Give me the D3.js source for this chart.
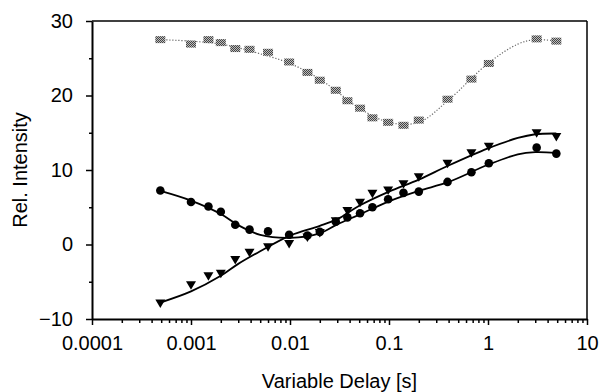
<!DOCTYPE html>
<html>
<head>
<meta charset="utf-8">
<script src="https://cdn.jsdelivr.net/npm/d3@7"></script>
<style>
  html, body { margin: 0; padding: 0; background: #fff; }
  svg text { font-family: "Liberation Sans", Arial, sans-serif; fill: #000; }
</style>
</head>
<body>
<svg id="chart" width="599" height="392"></svg>
<script>
// measured points
const delays = [0.00049, 0.001, 0.0015, 0.002, 0.0028, 0.0039, 0.006, 0.0098, 0.015, 0.02, 0.029, 0.038, 0.051, 0.068, 0.098, 0.14, 0.2, 0.39, 0.68, 1.02, 3.1, 4.9];
const graySquares = [27.5, 26.9, 27.5, 27.1, 26.3, 26.2, 25.8, 24.5, 23.1, 22.05, 20.7, 19.3, 18.3, 17.0, 16.4, 16.0, 16.7, 19.5, 22.2, 24.3, 27.6, 27.3];
const circles = [7.25, 5.7, 5.1, 4.4, 2.65, 2.0, 1.76, 1.3, 1.2, 1.7, 3.06, 3.64, 4.2, 5.0, 6.07, 6.93, 7.1, 8.4, 9.7, 10.9, 13.0, 12.2];
const triangles = [-7.85, -5.4, -4.2, -3.85, -2.0, -1.05, -0.3, 0.14, 1.0, 1.6, 3.2, 4.55, 5.66, 6.88, 7.33, 8.14, 9.1, 10.9, 12.3, 13.2, 15.0, 14.5];
// fitted curves
const fitDelays = [0.00049, 0.001, 0.002, 0.003, 0.005, 0.01, 0.02, 0.03, 0.05, 0.1, 0.2, 0.4, 1, 2, 3, 4.9];
const grayFit = [27.5, 27.3, 26.9, 26.4, 25.6, 24.3, 22.2, 20.5, 18.3, 16.4, 16.4, 19.4, 24.3, 26.9, 27.5, 27.3];
const circleFit = [7.2, 5.9, 4.1, 2.6, 1.3, 0.9, 1.5, 2.7, 4.0, 5.8, 7.2, 8.4, 10.7, 12.1, 12.4, 12.3];
const triangleFit = [-7.8, -6.3, -4.2, -2.6, -0.9, 1.2, 2.5, 3.4, 5.2, 7.1, 8.7, 10.6, 12.9, 14.3, 14.8, 14.9];
const xTickValues = [0.0001, 0.001, 0.01, 0.1, 1, 10];
const xTickLabels = ["0.0001", "0.001", "0.01", "0.1", "1", "10"];
const yTickValues = [-10, 0, 10, 20, 30];
const yMinorValues = [-5, 5, 15, 25];
const xLabel = "Variable Delay [s]";
const yLabel = "Rel. Intensity";

const svg = d3.select("#chart");
const L = 92, R = 587, T = 21, B = 319;
const x = d3.scaleLog().domain([0.0001, 10]).range([L, R]);
const y = d3.scaleLinear().domain([-10, 30]).range([B, T]);

// checker pattern for gray squares
const defs = svg.append("defs");
const pat = defs.append("pattern").attr("id", "chk").attr("width", 2).attr("height", 2).attr("patternUnits", "userSpaceOnUse");
pat.append("rect").attr("width", 2).attr("height", 2).attr("fill", "#bdbdbd");
pat.append("rect").attr("width", 1).attr("height", 1).attr("fill", "#444");
pat.append("rect").attr("x", 1).attr("y", 1).attr("width", 1).attr("height", 1).attr("fill", "#444");

// minor x ticks
const minorX = [];
for (let e = -4; e < 1; e++) for (let m = 2; m <= 9; m++) minorX.push(m * Math.pow(10, e));

const gx = svg.append("g").attr("transform", `translate(0,${B})`);
gx.call(d3.axisBottom(x).tickValues(minorX).tickSize(4).tickFormat(""));
gx.call(g => g.select(".domain").remove());
const gx2 = svg.append("g").attr("transform", `translate(0,${B})`)
  .call(d3.axisBottom(x).tickValues(xTickValues).tickSize(6).tickSizeOuter(0).tickFormat((d, i) => xTickLabels[i]));
gx2.selectAll("text").attr("font-size", 20).attr("dy", "1.1em");
svg.selectAll("g .tick line").attr("stroke-width", 1.5);
gx2.select(".domain").attr("stroke-width", 2);

const gy = svg.append("g").attr("transform", `translate(${L},0)`)
  .call(d3.axisLeft(y).tickValues(yTickValues).tickSize(6).tickSizeOuter(0).tickPadding(13));
gy.selectAll("text").attr("font-size", 20);
gy.selectAll(".tick line").attr("stroke-width", 1.5);
gy.select(".domain").attr("stroke-width", 2);
const gym = svg.append("g").attr("transform", `translate(${L},0)`)
  .call(d3.axisLeft(y).tickValues(yMinorValues).tickSize(3).tickFormat(""));
gym.select(".domain").remove();
gym.selectAll(".tick line").attr("stroke-width", 1.5);

// top and right borders
svg.append("line").attr("x1", L).attr("x2", R).attr("y1", T).attr("y2", T).attr("stroke", "#000").attr("stroke-width", 1.5);
svg.append("line").attr("x1", R).attr("x2", R).attr("y1", T).attr("y2", B).attr("stroke", "#000").attr("stroke-width", 1.5);

// axis titles
svg.append("text").attr("x", (L + R) / 2).attr("y", 388).attr("text-anchor", "middle").attr("font-size", 20).text(xLabel);
svg.append("text").attr("transform", `translate(27,${(T + B) / 2}) rotate(-90)`).attr("text-anchor", "middle").attr("font-size", 20).text(yLabel);

const line = vals => d3.line().curve(d3.curveCatmullRom.alpha(0.5)).x((d, i) => x(fitDelays[i])).y(d => y(d))(vals);

svg.append("path").attr("d", line(grayFit)).attr("fill", "none").attr("stroke", "#666").attr("stroke-width", 1.2).attr("stroke-dasharray", "1.2,1.8");
svg.append("path").attr("d", line(circleFit)).attr("fill", "none").attr("stroke", "#000").attr("stroke-width", 1.8);
svg.append("path").attr("d", line(triangleFit)).attr("fill", "none").attr("stroke", "#000").attr("stroke-width", 1.8);

svg.append("g").selectAll("rect").data(graySquares).join("rect")
  .attr("x", (d, i) => x(delays[i]) - 5).attr("y", d => y(d) - 3.5)
  .attr("width", 10).attr("height", 7).attr("fill", "url(#chk)");

svg.append("g").selectAll("circle").data(circles).join("circle")
  .attr("cx", (d, i) => x(delays[i])).attr("cy", d => y(d)).attr("r", 4.3).attr("fill", "#000");

svg.append("g").selectAll("path").data(triangles).join("path")
  .attr("d", (d, i) => {
    const cx = x(delays[i]), cy = y(d);
    return `M${cx - 5},${cy - 3.5}L${cx + 5},${cy - 3.5}L${cx},${cy + 5}Z`;
  }).attr("fill", "#000");
</script>
</body>
</html>
